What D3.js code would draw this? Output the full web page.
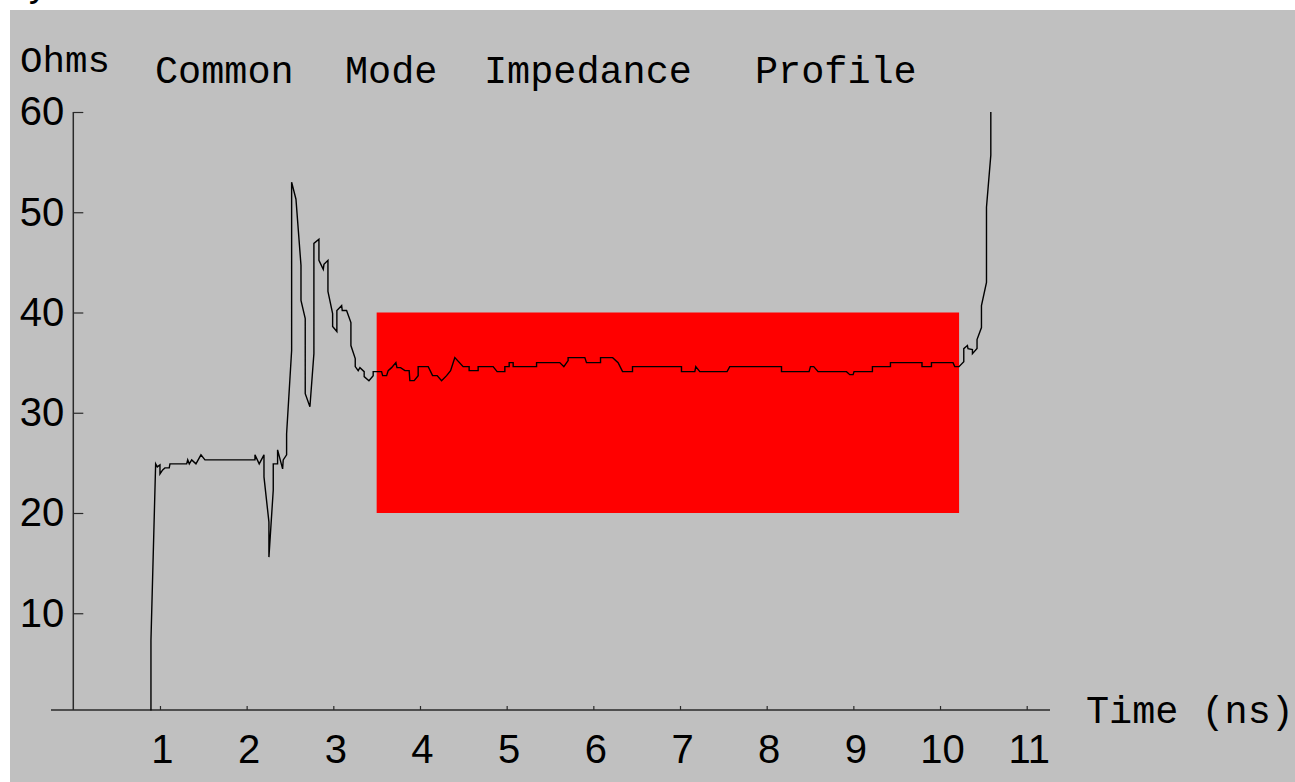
<!DOCTYPE html>
<html>
<head>
<meta charset="utf-8">
<script src="https://cdn.jsdelivr.net/npm/d3@7"></script>
<style>
  body { margin: 0; background: #fff; }
  svg { display: block; }
</style>
</head>
<body>
<div id="app"></div>
<script>
const svgWidth = 1295
const svgHeight = 782

// tdr trace
const timeNs = [
  0.896, 0.896, 0.950, 0.969, 1.000, 1.000, 1.031, 1.057, 1.107, 1.115,
  1.308, 1.320, 1.338, 1.366, 1.415, 1.473, 1.519, 2.096, 2.096, 2.145,
  2.200, 2.200, 2.257, 2.257, 2.307, 2.307, 2.357, 2.357, 2.415, 2.422,
  2.461, 2.461, 2.519, 2.519, 2.569, 2.627, 2.627, 2.676, 2.676, 2.730,
  2.776, 2.776, 2.834, 2.834, 2.884, 2.892, 2.938, 2.938, 2.992, 2.992,
  3.041, 3.041, 3.096, 3.103, 3.153, 3.203, 3.203, 3.253, 3.253, 3.287,
  3.307, 3.356, 3.356, 3.411, 3.460, 3.460, 3.557, 3.569, 3.615, 3.633,
  3.672, 3.722, 3.734, 3.776, 3.826, 3.875, 3.883, 3.933, 3.979, 3.979,
  4.095, 4.145, 4.198, 4.249, 4.307, 4.353, 4.402, 4.498, 4.567, 4.567,
  4.671, 4.671, 4.844, 4.890, 4.979, 4.979, 5.029, 5.029, 5.075, 5.075,
  5.345, 5.345, 5.613, 5.660, 5.709, 5.709, 5.902, 5.921, 6.083, 6.083,
  6.223, 6.286, 6.337, 6.452, 6.452, 7.017, 7.017, 7.171, 7.182, 7.228,
  7.543, 7.574, 8.171, 8.171, 8.489, 8.505, 8.543, 8.593, 8.921, 8.959,
  8.997, 9.008, 9.220, 9.220, 9.428, 9.428, 9.792, 9.792, 9.901, 9.901,
  10.150, 10.170, 10.219, 10.274, 10.274, 10.316, 10.323, 10.374, 10.374, 10.427,
  10.427, 10.478, 10.478, 10.536, 10.536, 10.586, 10.586
]
const ohms = [
  0.3, 7.3, 24.9, 24.6, 24.8, 23.9, 24.3, 24.5, 24.5, 24.9,
  24.9, 25.3, 24.9, 25.3, 24.9, 25.8, 25.3, 25.3, 25.8, 24.9,
  25.8, 23.6, 19.1, 15.6, 22.3, 24.9, 24.9, 26.3, 24.4, 25.3,
  25.8, 27.9, 36.2, 53.0, 51.3, 44.7, 41.2, 39.4, 31.9, 30.6,
  35.9, 46.9, 47.3, 45.2, 44.3, 44.8, 45.2, 42.1, 39.9, 38.6,
  38.1, 40.2, 40.7, 40.2, 40.2, 39.0, 36.7, 35.4, 34.6, 34.2,
  34.5, 34.1, 33.6, 33.2, 33.7, 34.1, 34.1, 33.7, 33.7, 34.2,
  34.5, 35.0, 34.5, 34.5, 34.2, 34.2, 33.2, 33.2, 33.7, 34.6,
  34.6, 33.7, 33.7, 33.2, 33.7, 34.2, 35.5, 34.6, 34.6, 34.2,
  34.2, 34.6, 34.6, 34.1, 34.1, 34.6, 34.6, 35.0, 35.0, 34.6,
  34.6, 35.0, 35.0, 34.6, 35.2, 35.5, 35.5, 35.0, 35.0, 35.5,
  35.5, 35.0, 34.1, 34.1, 34.6, 34.6, 34.1, 34.1, 34.6, 34.1,
  34.1, 34.6, 34.6, 34.1, 34.1, 34.6, 34.6, 34.1, 34.1, 33.8,
  33.8, 34.1, 34.1, 34.6, 34.6, 35.0, 35.0, 34.6, 34.6, 35.0,
  35.0, 34.6, 34.6, 35.1, 36.4, 36.7, 36.4, 36.3, 35.9, 36.4,
  37.3, 38.5, 40.7, 43.0, 50.5, 55.7, 60.0
]

// spec window (red box)
const specTime = [3.5, 10.22]
const specOhms = [20, 40]

const xTicks = [1, 2, 3, 4, 5, 6, 7, 8, 9, 10, 11]
const yTicks = [10, 20, 30, 40, 50, 60]

const titleWords = ['Common', 'Mode', 'Impedance', 'Profile']
const titleX = [155, 345, 484, 755]

const mono = '"Liberation Mono", "DejaVu Sans Mono", monospace'
const sans = '"Liberation Sans", Arial, sans-serif'
const axisColor = '#2a2a2a'

const x = d3.scaleLinear().domain([0, 11]).range([73.3, 1026.7])
const y = d3.scaleLinear().domain([0, 60]).range([713.5, 112])
const axisZ = 0.35

const svg = d3.select('#app').append('svg')
    .attr('width', svgWidth)
    .attr('height', svgHeight)

svg.append('rect')
    .attr('width', svgWidth)
    .attr('height', svgHeight)
    .attr('fill', '#fff')

svg.append('rect')
    .attr('x', 10)
    .attr('y', 10)
    .attr('width', svgWidth - 10)
    .attr('height', svgHeight - 10)
    .attr('fill', '#c0c0c0')

// clipped letter peeking in at the top edge
svg.append('text')
    .attr('x', 27)
    .attr('y', -4)
    .attr('font-family', mono)
    .attr('font-size', 38)
    .text('y')

svg.append('rect')
    .attr('x', x(specTime[0]))
    .attr('y', y(specOhms[1]))
    .attr('width', x(specTime[1]) - x(specTime[0]))
    .attr('height', y(specOhms[0]) - y(specOhms[1]))
    .attr('fill', '#ff0000')

// axes
const xAxis = d3.axisBottom(x)
    .tickValues(xTicks)
    .tickSizeInner(-4)
    .tickSizeOuter(0)
    .tickPadding(25)

svg.append('g')
    .attr('transform', `translate(0,${y(axisZ)})`)
    .call(xAxis)
    .call(g => g.select('.domain').remove())
    .call(g => g.selectAll('line').attr('stroke', axisColor).attr('stroke-width', 1.2))
    .call(g => g.selectAll('text')
        .attr('font-family', sans)
        .attr('font-size', 40)
        .attr('fill', '#000')
        .attr('dx', 2))

const yAxis = d3.axisLeft(y)
    .tickValues(yTicks)
    .tickSizeInner(-10)
    .tickSizeOuter(0)
    .tickPadding(9)

svg.append('g')
    .attr('transform', `translate(${x(0)},0)`)
    .call(yAxis)
    .call(g => g.select('.domain').remove())
    .call(g => g.selectAll('line').attr('stroke', axisColor).attr('stroke-width', 1.2))
    .call(g => g.selectAll('text')
        .attr('font-family', sans)
        .attr('font-size', 40)
        .attr('fill', '#000'))

svg.append('line')
    .attr('x1', 51).attr('x2', 1050)
    .attr('y1', y(axisZ)).attr('y2', y(axisZ))
    .attr('stroke', axisColor)
    .attr('stroke-width', 1.5)

svg.append('line')
    .attr('x1', x(0)).attr('x2', x(0))
    .attr('y1', y(60)).attr('y2', y(axisZ))
    .attr('stroke', axisColor)
    .attr('stroke-width', 1.5)

// trace
const line = d3.line()
    .x(d => x(d[0]))
    .y(d => y(d[1]))

svg.append('path')
    .datum(d3.zip(timeNs, ohms))
    .attr('d', line)
    .attr('fill', 'none')
    .attr('stroke', '#000')
    .attr('stroke-width', 1.4)
    .attr('stroke-linejoin', 'miter')

// labels
svg.append('text')
    .attr('x', 20)
    .attr('y', 72)
    .attr('font-family', mono)
    .attr('font-size', 37.5)
    .text('Ohms')

svg.selectAll('text.title')
    .data(titleWords)
    .join('text')
    .attr('class', 'title')
    .attr('x', (d, i) => titleX[i])
    .attr('y', 83)
    .attr('font-family', mono)
    .attr('font-size', 38.5)
    .text(d => d)

svg.append('text')
    .attr('x', 1086)
    .attr('y', 723)
    .attr('font-family', mono)
    .attr('font-size', 38.5)
    .text('Time (ns)')
</script>
</body>
</html>
